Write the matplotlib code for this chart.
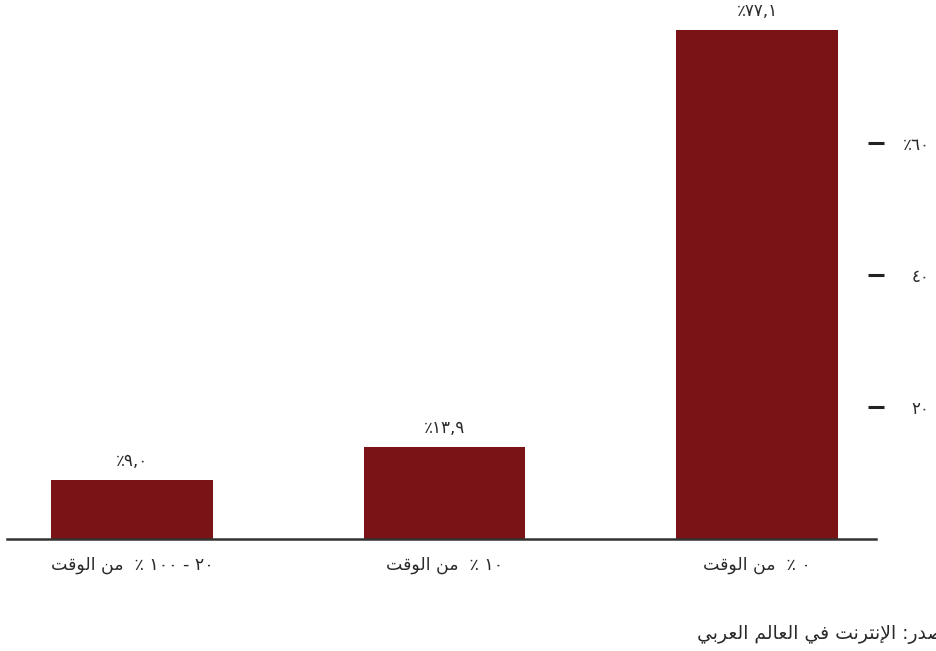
import re
import matplotlib
matplotlib.use("Agg")
import matplotlib.pyplot as plt

# categories in reading order (right to left on the chart)
categories = ["٠ ٪  من الوقت", "١٠ ٪  من الوقت", "٢٠ - ١٠٠ ٪  من الوقت"]
values = [77.1, 13.9, 9.0]
y_ticks = [20, 40, 60]
y_tick_labels = ["٢٠", "٤٠", "٦٠٪"]
source = "المصدر: الإنترنت في العالم العربي"

# arabic letter forms: (isolated, final, initial, medial)
# letters with only two forms do not join to the next letter
FORMS = {
    "ا": ("\uFE8D", "\uFE8E"),
    "إ": ("\uFE87", "\uFE88"),
    "ب": ("\uFE8F", "\uFE90", "\uFE91", "\uFE92"),
    "ت": ("\uFE95", "\uFE96", "\uFE97", "\uFE98"),
    "د": ("\uFEA9", "\uFEAA"),
    "ر": ("\uFEAD", "\uFEAE"),
    "ص": ("\uFEB9", "\uFEBA", "\uFEBB", "\uFEBC"),
    "ع": ("\uFEC9", "\uFECA", "\uFECB", "\uFECC"),
    "ف": ("\uFED1", "\uFED2", "\uFED3", "\uFED4"),
    "ق": ("\uFED5", "\uFED6", "\uFED7", "\uFED8"),
    "ل": ("\uFEDD", "\uFEDE", "\uFEDF", "\uFEE0"),
    "م": ("\uFEE1", "\uFEE2", "\uFEE3", "\uFEE4"),
    "ن": ("\uFEE5", "\uFEE6", "\uFEE7", "\uFEE8"),
    "و": ("\uFEED", "\uFEEE"),
    "ي": ("\uFEF1", "\uFEF2", "\uFEF3", "\uFEF4"),
}
LAM_ALEF = {"ا": ("\uFEFB", "\uFEFC"), "إ": ("\uFEF9", "\uFEFA")}


def shape(text):
    units = []
    i = 0
    while i < len(text):
        c = text[i]
        if c == "ل" and i + 1 < len(text) and text[i + 1] in LAM_ALEF:
            units.append(LAM_ALEF[text[i + 1]])
            i += 2
        else:
            units.append(FORMS.get(c, c))
            i += 1
    out = []
    for k, u in enumerate(units):
        if isinstance(u, str):
            out.append(u)
            continue
        prev = units[k - 1] if k > 0 else None
        nxt = units[k + 1] if k + 1 < len(units) else None
        jp = isinstance(prev, tuple) and len(prev) == 4
        jn = len(u) == 4 and isinstance(nxt, tuple)
        out.append(u[(1 if jp else 0) + (2 if jn else 0)])
    return "".join(out)


def rtl(text):
    # matplotlib lays text out left to right, so shape and reverse by hand
    s = shape(text)[::-1]
    return re.sub("[٠-٩][٠-٩,]*", lambda m: m.group()[::-1], s)


def ar_num(v):
    s = f"{v:.1f}".translate(str.maketrans("0123456789.", "٠١٢٣٤٥٦٧٨٩,"))
    return s + "٪"


plt.rcParams["font.family"] = ["DejaVu Sans"]
TXT = "#2a2a2a"

W, H = 937, 651
fig = plt.figure(figsize=(W / 100, H / 100), dpi=100)
ax = fig.add_axes([7 / W, 112 / H, 869 / W, 528.5 / H])

x = list(range(len(values)))
bars = ax.bar(x, values, width=0.518, color="#7a1315", zorder=2)
for b, v in zip(bars, values):
    ax.annotate(rtl(ar_num(v)), (b.get_x() + b.get_width() / 2, v),
                xytext=(0, 7), textcoords="offset points",
                ha="center", va="bottom", fontsize=12, color=TXT)

ax.set_ylim(0, 80)
ax.set_xlim(2.4, -0.381)

ax.set_xticks(x)
ax.set_xticklabels([rtl(c) for c in categories], fontsize=12.5, color=TXT)
ax.tick_params(axis="x", length=0, pad=12)

ax.yaxis.tick_right()
ax.set_yticks(y_ticks)
ax.set_yticklabels([rtl(t) for t in y_tick_labels], fontsize=12, color=TXT)
ax.tick_params(axis="y", direction="inout", length=12.2, width=2.2,
               color="#222222", pad=32.5)
for t in ax.get_yticklabels():
    t.set_ha("right")

for s in ["top", "left", "right"]:
    ax.spines[s].set_visible(False)
ax.spines["bottom"].set_linewidth(1.8)
ax.spines["bottom"].set_color("#333333")
ax.spines["bottom"].set_zorder(3)

fig.text(697 / W, 1 - 635 / H, rtl(source), ha="left", va="center",
         fontsize=13.5, color=TXT)

fig.savefig("out.png", dpi=100)
